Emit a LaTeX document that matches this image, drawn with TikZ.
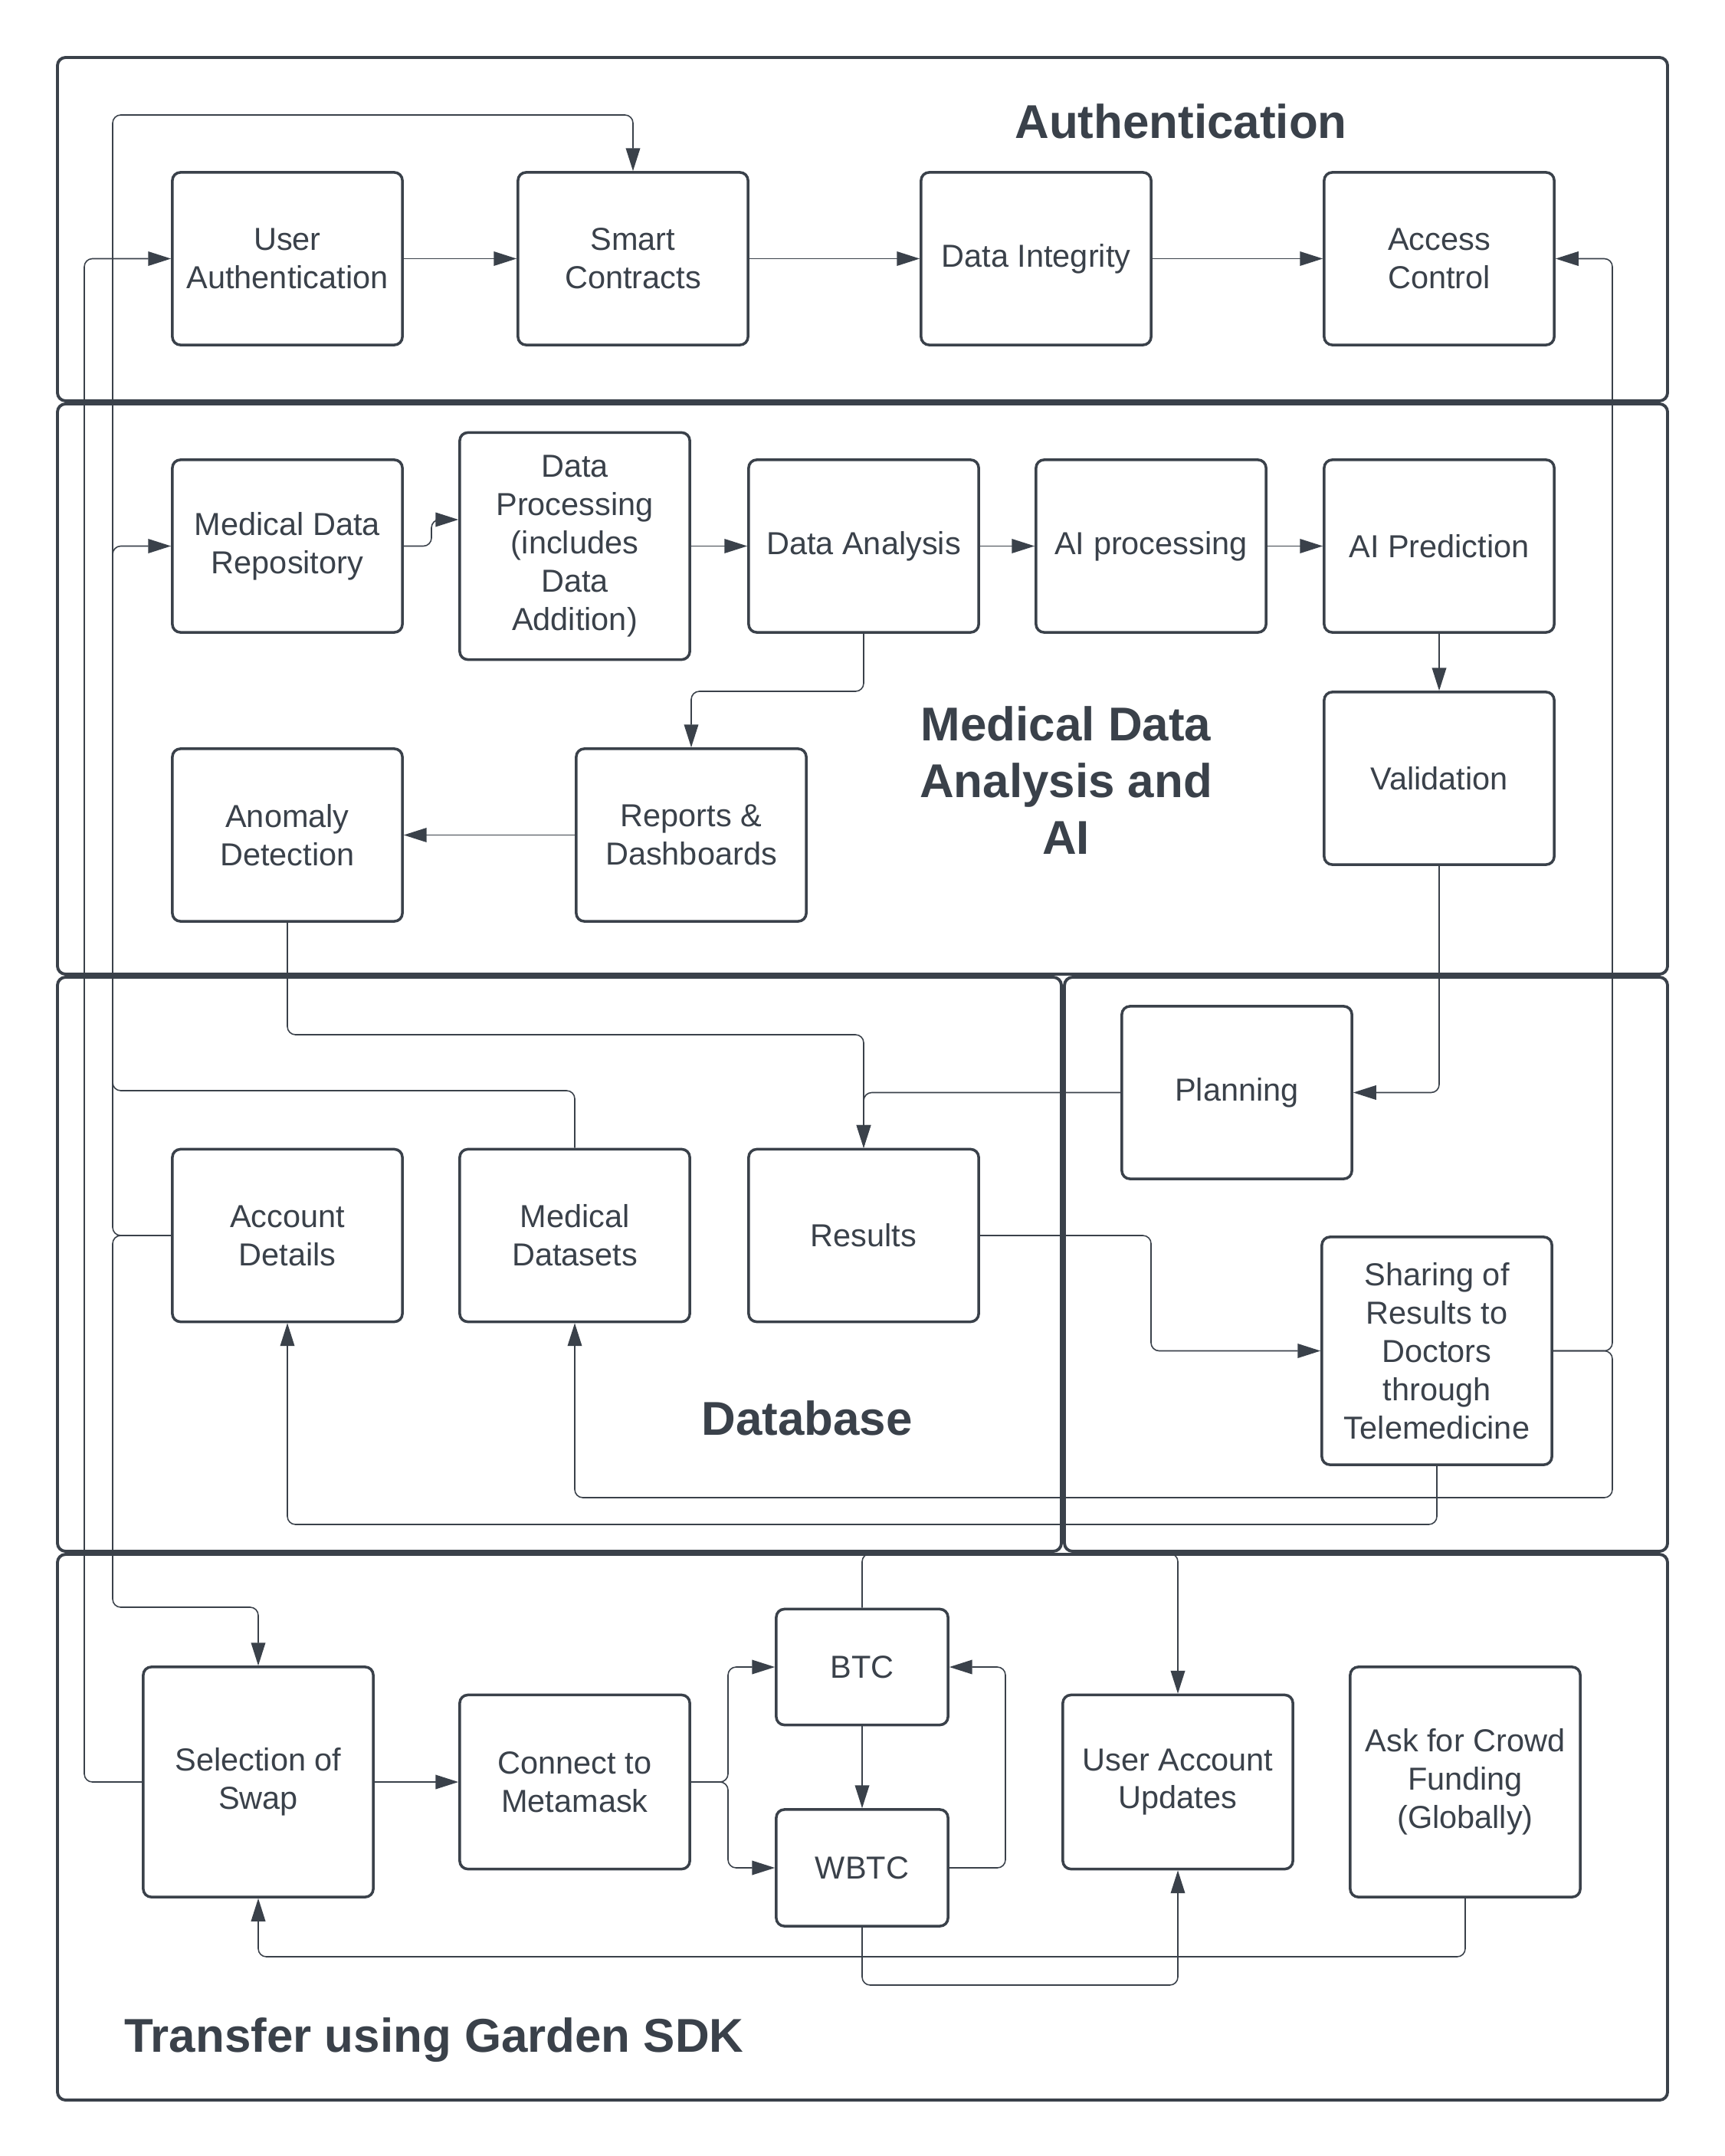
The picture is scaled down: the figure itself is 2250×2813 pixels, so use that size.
\documentclass[tikz,border=0pt]{standalone}
\usepackage{fontspec}
\setmainfont{Liberation Sans}
\usetikzlibrary{arrows.meta}
\definecolor{lc}{HTML}{3A414A}
\begin{document}
\begin{tikzpicture}[x=0.01cm,y=-0.01cm,
  frame/.style={draw=lc, line width=1.1pt, rounded corners=3pt},
  box/.style={draw=lc, line width=1pt, rounded corners=3pt, align=center, text=lc,
    font=\fontsize{11.8pt}{14.2pt}\selectfont, minimum width=3cm, minimum height=2.25cm, inner sep=0pt},
  ttl/.style={text=lc, align=center, font=\fontsize{17.6pt}{21pt}\selectfont\bfseries},
  arr/.style={draw=lc, line width=0.45pt, rounded corners=3pt, -{Triangle[length=8.5pt,width=5.3pt]}}]
\useasboundingbox (0,0) rectangle (2250,2813);
\fill[white] (0,0) rectangle (2250,2813);
% frames
\draw[frame] (75,75) rectangle (2176,523);
\draw[frame] (75,527) rectangle (2176,1271);
\draw[frame] (75,1275) rectangle (1385,2024);
\draw[frame] (1389,1275) rectangle (2176,2024);
\draw[frame] (75,2028) rectangle (2176,2740);
% titles
\node[ttl] (t1) at (1541,158) {Authentication};
\node[ttl] (t2) at (1391,1018) {Medical Data\\Analysis and\\AI};
\node[ttl] (t3) at (1053,1850) {Database};
\node[ttl, anchor=west] (t4) at (150,2662) {Transfer using Garden SDK};
% authentication
\node[box] (ua) at (375,337.5) {User\\Authentication};
\node[box] (sc) at (826,337.5) {Smart\\Contracts};
\node[box] (di) at (1352,337.5) {Data Integrity};
\node[box] (ac) at (1878,337.5) {Access\\Control};
% medical
\node[box] (mdr) at (375,712.5) {Medical Data\\Repository};
\node[box, minimum height=2.96cm] (dp) at (750,712.5) {Data\\Processing\\(includes\\Data\\Addition)};
\node[box] (da) at (1127,712.5) {Data Analysis};
\node[box] (aip) at (1502,712.5) {AI processing};
\node[box] (aipred) at (1878,712.5) {AI Prediction};
\node[box] (val) at (1878,1015.5) {Validation};
\node[box] (rep) at (902,1089.5) {Reports \&\\Dashboards};
\node[box] (anom) at (375,1089.5) {Anomaly\\Detection};
% database
\node[box] (plan) at (1614,1425.5) {Planning};
\node[box] (acct) at (375,1612) {Account\\Details};
\node[box] (mds) at (750,1612) {Medical\\Datasets};
\node[box] (res) at (1127,1612) {Results};
\node[box, minimum height=2.97cm] (share) at (1875,1762.5) {Sharing of\\Results to\\Doctors\\through\\Telemedicine};
% transfer
\node[box, minimum height=3cm] (sel) at (337,2325) {Selection of\\Swap};
\node[box, minimum height=2.27cm] (conn) at (750,2325) {Connect to\\Metamask};
\node[box, minimum width=2.24cm, minimum height=1.51cm] (btc) at (1125,2175) {BTC};
\node[box, minimum width=2.24cm, minimum height=1.52cm] (wbtc) at (1125,2437) {WBTC};
\node[box, minimum height=2.27cm] (uau) at (1537,2325) {User Account\\Updates};
\node[box, minimum height=3cm] (ask) at (1912,2325) {Ask for Crowd\\Funding\\(Globally)};
% connectors: authentication
\draw[arr] (ua.east) -- (sc.west);
\draw[arr] (sc.east) -- (di.west);
\draw[arr] (di.east) -- (ac.west);
\draw[arr] (acct.west) -| (147,150) -| (sc.north);
\draw[arr] (mds.north) |- (147,1423) |- (mdr.west);
\draw[arr] (acct.west) -| (147,2097) -| (sel.north);
\draw[arr] (sel.west) -| (110,337.5) -- (ua.west);
% medical
\draw[arr] (mdr.east) -| (563,678) -- ([yshift=0.345cm]dp.west);
\draw[arr] (dp.east) -- (da.west);
\draw[arr] (da.east) -- (aip.west);
\draw[arr] (aip.east) -- (aipred.west);
\draw[arr] (aipred.south) -- (val.north);
\draw[arr] (da.south) |- (902,902) -- (rep.north);
\draw[arr] (rep.west) -- (anom.east);
% database
\draw[arr] (val.south) |- (plan.east);
\draw[arr] (plan.west) -| (res.north);
\draw[arr] (anom.south) |- (1127,1350) -- (res.north);
\draw[arr] (res.east) -| (1502,1762.5) -- (share.west);
\draw[arr] (share.east) -| (2104,337.5) -- (ac.east);
\draw[arr] (share.east) -| (2104,1954) -| (mds.south);
\draw[arr] (share.south) -- (1875,1989) -| (acct.south);
% transfer
\draw[arr] (sel.east) -- (conn.west);
\draw[arr] (conn.east) -| (950,2175) -- (btc.west);
\draw[arr] (conn.east) -| (950,2437) -- (wbtc.west);
\draw[arr] (btc.south) -- (wbtc.north);
\draw[arr] (wbtc.east) -| (1312,2175) -- (btc.east);
\draw[arr] (btc.north) |- (1537,2027) -- (uau.north);
\draw[arr] (wbtc.south) |- (1537,2590) -- (uau.south);
\draw[arr] (ask.south) |- (337,2553) -- (sel.south);
\end{tikzpicture}
\end{document}
